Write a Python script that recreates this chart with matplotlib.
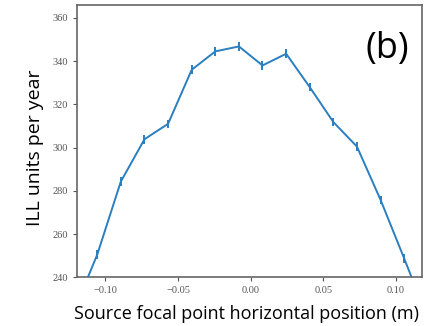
import matplotlib
matplotlib.use("Agg")
import matplotlib.pyplot as plt
import numpy as np

# Focal point positions (m) and yearly ILL units with error estimates
positions = [-0.1219, -0.1056, -0.0894, -0.0731, -0.0569, -0.0406, -0.0244,
             -0.0081, 0.0081, 0.0244, 0.0406, 0.0569, 0.0731, 0.0894,
             0.1056, 0.1219]
ill_units = [224.0, 250.6, 284.3, 303.9, 311.0, 336.0, 344.5, 346.8,
             338.0, 343.4, 328.0, 311.8, 300.5, 275.8, 248.8, 221.0]
errors = [2.0, 2.0, 2.0, 2.0, 2.0, 2.0, 2.0, 2.0,
          2.0, 2.0, 2.0, 2.0, 2.0, 2.0, 2.0, 2.0]

x_ticks = [-0.10, -0.05, 0.00, 0.05, 0.10]
y_ticks = [240, 260, 280, 300, 320, 340, 360]

fig = plt.figure(figsize=(4.33, 3.26), dpi=100)
ax = fig.add_axes([0.178, 0.149, 0.797, 0.836])

ax.errorbar(positions, ill_units, yerr=errors, color="#2a7fc0", lw=1.4,
            elinewidth=1.4, capsize=0)

ax.set_xlim(-0.1195, 0.118)
ax.set_ylim(240, 366)
ax.set_xticks(x_ticks)
ax.set_yticks(y_ticks)
ax.set_xticklabels([f"{t:.2f}".replace("-", "\u2212") for t in x_ticks])
ax.tick_params(labelsize=7.5, colors="#555555", length=3, width=0.8)
for lab in ax.get_xticklabels() + ax.get_yticklabels():
    lab.set_family(["Liberation Serif", "DejaVu Serif"])
for s in ax.spines.values():
    s.set_color("#666666")
    s.set_linewidth(1.2)

label_font = ["Open Sans", "DejaVu Sans"]
ax.set_xlabel("Source focal point horizontal position (m)", family=label_font,
              fontsize=13)
ax.set_ylabel("ILL units per year", family=label_font, fontsize=14)
ax.xaxis.set_label_coords(0.49, -0.10)
ax.yaxis.set_label_coords(-0.095, 0.475)
ax.text(0.90, 0.838, "(b)", transform=ax.transAxes, family=label_font,
        fontsize=26, ha="center", va="center")

fig.savefig("out.png", dpi=100)
